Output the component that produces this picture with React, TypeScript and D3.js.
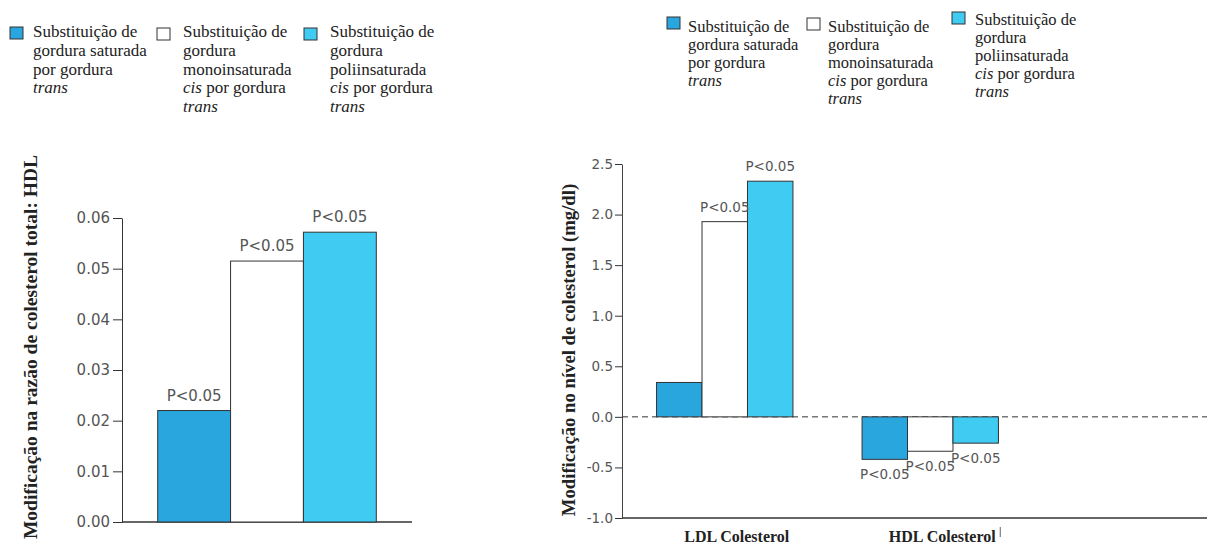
import React, { useEffect, useRef } from 'react'
import * as d3 from 'd3'

// series (substitution type)
const series = ['saturada', 'monoinsaturada', 'poliinsaturada']
const seriesColors = ['#2aa6df', '#ffffff', '#40cbf3']

// left panel: change in total cholesterol : HDL ratio
const ratioValues = [0.022, 0.0515, 0.0572]
const ratioTicks = [0, 0.01, 0.02, 0.03, 0.04, 0.05, 0.06]
const ratioPLabels = ['P<0.05', 'P<0.05', 'P<0.05']

// right panel: change in cholesterol level (mg/dl)
const groups = ['LDL Colesterol', 'HDL Colesterol']
const ldlValues = [0.34, 1.93, 2.33]
const hdlValues = [-0.42, -0.34, -0.26]
const levelTicks = [-1.0, -0.5, 0, 0.5, 1.0, 1.5, 2.0, 2.5]
const ldlPLabels = ['', 'P<0.05', 'P<0.05']
const hdlPLabels = ['P<0.05', 'P<0.05', 'P<0.05']

// legend text, [text, italic]
const legendLines = [
  [[['Substituição de', false]], [['gordura saturada', false]], [['por gordura', false]], [['trans', true]]],
  [[['Substituição de', false]], [['gordura', false]], [['monoinsaturada', false]], [['cis', true], [' por gordura', false]], [['trans', true]]],
  [[['Substituição de', false]], [['gordura', false]], [['poliinsaturada', false]], [['cis', true], [' por gordura', false]], [['trans', true]]]
]

const SERIF = '"Liberation Serif", "Times New Roman", serif'
const SANS = '"DejaVu Sans", Verdana, sans-serif'

function drawLegend (svg, items, fontSize, lineH) {
  items.forEach((it, i) => {
    const g = svg.append('g')
    g.append('rect')
      .attr('x', it.sx).attr('y', it.sy)
      .attr('width', 13).attr('height', 12)
      .attr('fill', seriesColors[i])
      .attr('stroke', '#333')
      .attr('stroke-width', 1)
    const text = g.append('text')
      .attr('font-family', SERIF)
      .attr('font-size', fontSize)
      .attr('fill', '#222')
    legendLines[i].forEach((line, li) => {
      line.forEach(([t, ital], si) => {
        const ts = text.append('tspan')
          .text(t)
          .attr('font-style', ital ? 'italic' : 'normal')
        if (si === 0) ts.attr('x', it.tx).attr('y', it.ty + li * lineH)
      })
    })
  })
}

function App () {
  const ref = useRef(null)

  useEffect(() => {
    const svg = d3.select(ref.current)
    svg.selectAll('*').remove()

    // ---------- legends
    drawLegend(svg, [
      { sx: 10, sy: 27, tx: 33, ty: 37 },
      { sx: 157, sy: 28, tx: 183, ty: 37 },
      { sx: 304, sy: 28, tx: 330, ty: 37 }
    ], 17, 18.75)
    drawLegend(svg, [
      { sx: 667, sy: 17, tx: 688, ty: 32 },
      { sx: 807, sy: 18, tx: 828, ty: 32 },
      { sx: 952, sy: 12, tx: 975, ty: 25 }
    ], 16.5, 18)

    // ---------- left panel
    const y1 = d3.scaleLinear().domain([0, 0.06]).range([522, 218])
    const x1 = d3.scaleBand().domain(series).range([122, 412]).paddingInner(0).paddingOuter(0.49)

    const ax1 = svg.append('g')
      .attr('transform', 'translate(122,0)')
      .call(d3.axisLeft(y1).tickValues(ratioTicks).tickFormat(d3.format('.2f')).tickSize(9).tickSizeOuter(0).tickPadding(3))
    ax1.select('.domain').attr('stroke', '#333')
    ax1.selectAll('.tick line').attr('stroke', '#333')
    ax1.selectAll('.tick text').attr('font-family', SANS).attr('font-size', 15).attr('fill', '#555')

    svg.append('line')
      .attr('x1', 122).attr('x2', 412)
      .attr('y1', y1(0)).attr('y2', y1(0))
      .attr('stroke', '#333').attr('stroke-width', 1.5)

    svg.append('g').selectAll('rect')
      .data(ratioValues)
      .join('rect')
      .attr('x', (d, i) => x1(series[i]))
      .attr('y', d => y1(d))
      .attr('width', x1.bandwidth())
      .attr('height', d => y1(0) - y1(d))
      .attr('fill', (d, i) => seriesColors[i])
      .attr('stroke', '#333')
      .attr('stroke-width', 1)

    svg.append('g').selectAll('text')
      .data(ratioValues)
      .join('text')
      .attr('x', (d, i) => x1(series[i]) + x1.bandwidth() / 2)
      .attr('y', d => y1(d) - 10)
      .attr('text-anchor', 'middle')
      .attr('font-family', SANS)
      .attr('font-size', 15)
      .attr('fill', '#555')
      .text((d, i) => ratioPLabels[i])

    svg.append('text')
      .attr('transform', 'translate(37,347) rotate(-90)')
      .attr('text-anchor', 'middle')
      .attr('font-family', SERIF)
      .attr('font-weight', 'bold')
      .attr('font-size', 19.5)
      .attr('fill', '#222')
      .text('Modificação na razão de colesterol total: HDL')

    // ---------- right panel
    const y2 = d3.scaleLinear().domain([-1, 2.5]).range([518, 164])
    const x0 = d3.scaleBand().domain(groups).range([622, 1033])
    const x2 = d3.scaleBand().domain(series).range([0, x0.bandwidth()]).paddingOuter(0.76)

    const ax2 = svg.append('g')
      .attr('transform', 'translate(622,0)')
      .call(d3.axisLeft(y2).tickValues(levelTicks).tickFormat(d => d3.format('.1f')(d).replace('−', '-')).tickSize(7).tickSizeOuter(0).tickPadding(2))
    ax2.select('.domain').attr('stroke', '#444')
    ax2.selectAll('.tick line').attr('stroke', '#333')
    ax2.selectAll('.tick text').attr('font-family', SANS).attr('font-size', 13.5).attr('fill', '#555')

    svg.append('line')
      .attr('x1', 622).attr('x2', 1207)
      .attr('y1', y2(0)).attr('y2', y2(0))
      .attr('stroke', '#333').attr('stroke-width', 1)
      .attr('stroke-dasharray', '6,4')

    svg.append('line')
      .attr('x1', 622).attr('x2', 1207)
      .attr('y1', y2(-1)).attr('y2', y2(-1))
      .attr('stroke', '#333').attr('stroke-width', 1.5)

    const groupData = [ldlValues, hdlValues]
    const groupLabels = [ldlPLabels, hdlPLabels]
    groups.forEach((gName, gi) => {
      const g = svg.append('g').attr('transform', `translate(${x0(gName)},0)`)
      g.selectAll('rect')
        .data(groupData[gi])
        .join('rect')
        .attr('x', (d, i) => x2(series[i]))
        .attr('y', d => y2(Math.max(0, d)))
        .attr('width', x2.bandwidth())
        .attr('height', d => Math.abs(y2(d) - y2(0)))
        .attr('fill', (d, i) => seriesColors[i])
        .attr('stroke', '#333')
        .attr('stroke-width', 1)
      g.selectAll('text')
        .data(groupData[gi])
        .join('text')
        .attr('x', (d, i) => x2(series[i]) + x2.bandwidth() / 2)
        .attr('y', d => d >= 0 ? y2(d) - 10 : y2(d) + 20)
        .attr('text-anchor', 'middle')
        .attr('font-family', SANS)
        .attr('font-size', 13.5)
        .attr('fill', '#555')
        .text((d, i) => groupLabels[gi][i])
      svg.append('text')
        .attr('x', x0(gName) + x0.bandwidth() / 2 + 12)
        .attr('y', 542)
        .attr('text-anchor', 'middle')
        .attr('font-family', SERIF)
        .attr('font-weight', 'bold')
        .attr('font-size', 16)
        .attr('fill', '#222')
        .text(gName)
    })

    // small stray mark after the HDL label
    svg.append('line')
      .attr('x1', x0('HDL Colesterol') + x0.bandwidth() / 2 + 70)
      .attr('x2', x0('HDL Colesterol') + x0.bandwidth() / 2 + 70)
      .attr('y1', 527).attr('y2', 537)
      .attr('stroke', '#666').attr('stroke-width', 1)

    svg.append('text')
      .attr('transform', 'translate(575,350) rotate(-90)')
      .attr('text-anchor', 'middle')
      .attr('font-family', SERIF)
      .attr('font-weight', 'bold')
      .attr('font-size', 18.7)
      .attr('fill', '#222')
      .text('Modificação no nível de colesterol (mg/dl)')
  }, [])

  return (
    <svg
      ref={ref}
      width={1207}
      height={544}
      style={{ position: 'absolute', left: 0, top: 0, display: 'block', background: '#fff' }}
    />
  )
}

export default App
